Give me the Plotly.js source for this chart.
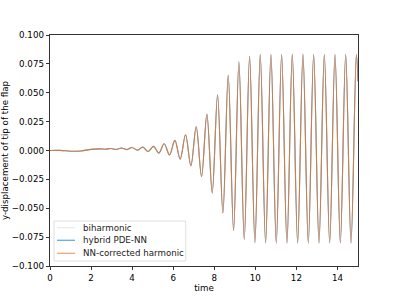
<!DOCTYPE html>
<html>
<head>
<meta charset="utf-8">
<script src="https://cdn.plot.ly/plotly-3.0.1.min.js"></script>
<style>html,body{margin:0;padding:0;background:#fff;}#chart{width:399px;height:299px;}</style>
</head>
<body>
<div id="chart"></div>
<script>
// time samples (turning points of the tip oscillation)
const time = [0, 0.5, 1.0, 1.5, 2.0, 2.44, 2.70, 2.96, 3.22, 3.48, 3.74, 4.00, 4.26, 4.52, 4.78,
  5.04, 5.30, 5.56, 5.82, 6.08, 6.34, 6.60, 6.86, 7.12, 7.38, 7.64, 7.90, 8.16, 8.42, 8.68,
  8.94, 9.20, 9.46, 9.72, 9.98, 10.24, 10.50, 10.76, 11.02, 11.28, 11.54, 11.80, 12.06, 12.32,
  12.58, 12.84, 13.10, 13.36, 13.62, 13.88, 14.14, 14.40, 14.66, 14.92, 15.0];
// y-displacement of tip of the flap (the three models overlap almost exactly)
const biharmonic = [0, 0.0001, -0.0006, -0.0004, 0.0010, 0.0014, 0.0011, 0.0017, 0.0009, 0.0021,
  0.0008, 0.0026, 0.0003, 0.0029, -0.0009, 0.0036, -0.0023, 0.0058, -0.0038, 0.0088, -0.0075,
  0.0136, -0.0133, 0.0205, -0.0225, 0.0316, -0.0367, 0.0483, -0.0542, 0.0650, -0.0693, 0.0769,
  -0.0768, 0.0815, -0.0797, 0.0830, -0.0800, 0.0831, -0.0801, 0.0831, -0.0801, 0.0832, -0.0801,
  0.0832, -0.0801, 0.0831, -0.0801, 0.0831, -0.0800, 0.0831, -0.0800, 0.0830, -0.0800, 0.0830, 0.0600];
const hybridPdeNn = biharmonic.slice();
const nnCorrectedHarmonic = biharmonic.slice();

const seriesNames = ["biharmonic", "hybrid PDE-NN", "NN-corrected harmonic"];
const seriesColors = ["rgba(215,215,215,0.6)", "rgba(45,140,225,0.7)", "rgba(228,118,40,0.8)"];
const legendColors = ["#ececec", "#64aae8", "#eea778"];
const xTicks = [0, 2, 4, 6, 8, 10, 12, 14];
const yTicks = [-0.1, -0.075, -0.05, -0.025, 0, 0.025, 0.05, 0.075, 0.1];
const yTickText = ["\u22120.100", "\u22120.075", "\u22120.050", "\u22120.025", "0.000", "0.025", "0.050", "0.075", "0.100"];

const values = [biharmonic, hybridPdeNn, nnCorrectedHarmonic];
const font = {family: "DejaVu Sans", size: 8.7, color: "#000"};

const traces = values.map((v, i) => ({
  x: time, y: v, type: "scatter", mode: "lines", name: seriesNames[i],
  line: {color: seriesColors[i], width: 1.1, shape: "spline", smoothing: 1},
  showlegend: false, hoverinfo: "skip"
}));

// manual matplotlib-like legend
const legY = [0.1658, 0.1113, 0.055];
const shapes = [{type: "rect", xref: "paper", yref: "paper", x0: 0.013, x1: 0.4406, y0: 0.0216, y1: 0.1948,
  line: {color: "#d6d6d6", width: 0.8}, fillcolor: "rgba(255,255,255,0.8)", layer: "above"}];
const annotations = [];
seriesNames.forEach((n, i) => {
  shapes.push({type: "line", xref: "paper", yref: "paper", x0: 0.0227, x1: 0.0812, y0: legY[i], y1: legY[i],
    line: {color: legendColors[i], width: 1.3}, layer: "above"});
  annotations.push({xref: "paper", yref: "paper", x: 0.101, y: legY[i], xanchor: "left", yanchor: "middle",
    text: n, showarrow: false, font: {family: "DejaVu Sans", size: 8.7, color: "#222"}});
});

const axisCommon = {showgrid: false, zeroline: false, showline: true, mirror: true, linecolor: "#000",
  linewidth: 0.8, ticks: "outside", ticklen: 3.5, tickwidth: 0.8, tickcolor: "#000", tickfont: font};

const layout = {
  width: 399, height: 299, margin: {l: 50, r: 41, t: 35, b: 33},
  paper_bgcolor: "#fff", plot_bgcolor: "#fff", font: font,
  xaxis: Object.assign({}, axisCommon, {range: [0, 15], tickvals: xTicks, ticktext: xTicks.map(String),
    title: {text: "time", font: font, standoff: 3}}),
  yaxis: Object.assign({}, axisCommon, {range: [-0.1, 0.1], tickvals: yTicks, ticktext: yTickText,
    title: {text: "y-displacement of tip of the flap", font: font, standoff: 4}}),
  shapes: shapes, annotations: annotations
};

Plotly.newPlot("chart", traces, layout, {displayModeBar: false, staticPlot: true});
</script>
</body>
</html>
